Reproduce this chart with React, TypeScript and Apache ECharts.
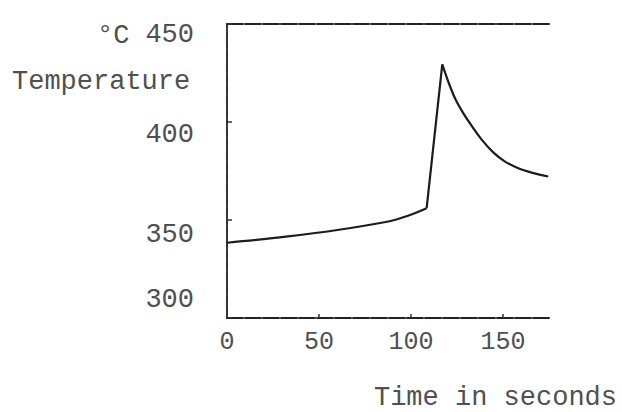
import React, { useEffect, useRef } from 'react';
import * as echarts from 'echarts';

// Axis ticks
const xTicks = [0, 50, 100, 150];
const yTicks = [300, 350, 400, 450];
const xMax = 175;

// Temperature curve (°C) vs time (s)
const heatingTime = [0, 32, 60, 87, 98, 108.5];
const heatingTemp = [338.4, 341.5, 344.9, 349.1, 352, 356];
const riseTime = [108.5, 117];
const riseTemp = [356, 429.4];
const coolingTime = [117, 120.3, 123.9, 128.4, 133, 138.4, 144.7, 151.1, 158.3, 165.6, 174.6];
const coolingTemp = [429.4, 420.5, 412.1, 404.5, 398, 391, 384.5, 379.8, 376.4, 374.2, 372.2];

const unitText = '°C';
const yTitle = 'Temperature';
const xTitle = 'Time in seconds';

const FONT = '"Liberation Mono", "Courier New", monospace';
const TEXT = '#505050';
const INK = '#1c1c1c';

const pairs = (xs: number[], ys: number[]) => xs.map((x, i) => [x, ys[i]]);

export default function App() {
  const ref = useRef<HTMLDivElement>(null);

  useEffect(() => {
    if (!ref.current) return;
    const chart = echarts.init(ref.current, undefined, { renderer: 'svg' });

    const tok = (pad: number[]) => ({
      fontFamily: FONT,
      fontSize: 27,
      color: TEXT,
      padding: pad,
    });

    const lineSeries = (data: number[][], smooth: number | boolean) => ({
      type: 'line',
      data,
      smooth,
      symbol: 'none',
      lineStyle: { color: INK, width: 2.2 },
      xAxisIndex: 0,
      yAxisIndex: 0,
    });

    chart.setOption({
      animation: false,
      backgroundColor: '#ffffff',
      grid: { left: 227, right: 73, top: 24, bottom: 94, containLabel: false },
      xAxis: [
        {
          type: 'value',
          min: 0,
          max: xMax,
          interval: 50,
          position: 'bottom',
          axisLine: { show: true, lineStyle: { color: '#222', width: 2, type: [16, 2] } },
          axisTick: { show: true, inside: true, length: 4, lineStyle: { color: '#333', width: 1.5 } },
          splitLine: { show: false },
          axisLabel: {
            showMaxLabel: false,
            margin: 12,
            fontFamily: FONT,
            fontSize: 25,
            color: TEXT,
            formatter: (v: number) => (xTicks.includes(v) ? String(v) : ''),
          },
        },
        {
          type: 'value',
          min: 0,
          max: xMax,
          position: 'top',
          axisLine: { show: true, lineStyle: { color: '#222', width: 2, type: [16, 2] } },
          axisTick: { show: false },
          axisLabel: { show: false },
          splitLine: { show: false },
        },
      ],
      yAxis: [
        {
          type: 'value',
          min: 300,
          max: 450,
          interval: 50,
          position: 'left',
          axisLine: { show: true, lineStyle: { color: '#222', width: 2 } },
          axisTick: { show: true, inside: true, length: 5, lineStyle: { color: '#333', width: 1.5 } },
          splitLine: { show: false },
          axisLabel: {
            margin: 33,
            align: 'right',
            fontFamily: FONT,
            fontSize: 27,
            color: TEXT,
            formatter: (v: number) => {
              if (!yTicks.includes(v)) return '';
              return `{t${v}|${v}}`;
            },
            rich: {
              t450: tok([22, 0, 0, 0]),
              t400: tok([26, 0, 0, 0]),
              t350: tok([30, 0, 0, 0]),
              t300: tok([0, 0, 36, 0]),
            },
          },
        },
        {
          type: 'value',
          min: 300,
          max: 450,
          position: 'right',
          axisLine: { show: true, lineStyle: { color: '#444', width: 1.5, type: [6, 2, 1, 2] } },
          axisTick: { show: false },
          axisLabel: { show: false },
          splitLine: { show: false },
        },
      ],
      graphic: [
        {
          type: 'text',
          x: 97,
          y: 36,
          style: {
            text: unitText,
            fontFamily: FONT,
            fontSize: 27,
            lineHeight: 24,
            fill: TEXT,
            textAlign: 'left',
            textVerticalAlign: 'middle',
          },
        },
        {
          type: 'text',
          x: 12,
          y: 82,
          style: {
            text: yTitle,
            fontFamily: FONT,
            fontSize: 27,
            lineHeight: 24,
            fill: TEXT,
            textAlign: 'left',
            textVerticalAlign: 'middle',
          },
        },
        {
          type: 'text',
          x: 617,
          y: 398,
          style: {
            text: xTitle,
            fontFamily: FONT,
            fontSize: 27,
            lineHeight: 22,
            fill: TEXT,
            textAlign: 'right',
            textVerticalAlign: 'middle',
          },
        },
      ],
      series: [
        lineSeries(pairs(heatingTime, heatingTemp), 0.3),
        lineSeries(pairs(riseTime, riseTemp), false),
        lineSeries(pairs(coolingTime, coolingTemp), 0.3),
      ],
    });

    return () => chart.dispose();
  }, []);

  return (
    <div
      ref={ref}
      style={{ position: 'fixed', left: 0, top: 0, width: 622, height: 412, background: '#fff' }}
    />
  );
}
